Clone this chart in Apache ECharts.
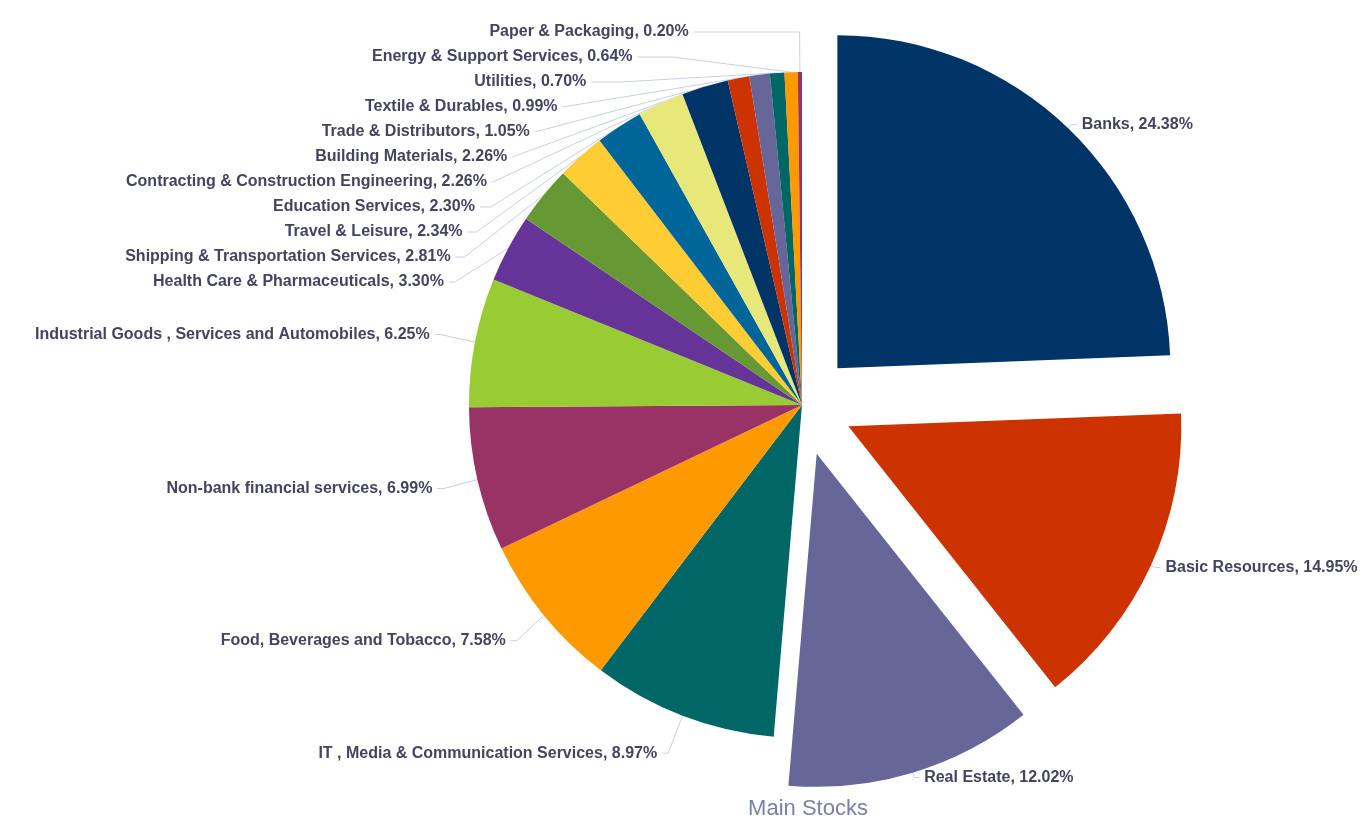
<!DOCTYPE html>
<html>
<head>
<meta charset="utf-8">
<script src="https://cdn.jsdelivr.net/npm/echarts@6/dist/echarts.min.js"></script>
<style>
html,body{margin:0;padding:0;background:#fff;}
#chart{width:1368px;height:821px;}
</style>
</head>
<body>
<div id="chart"></div>
<script>
const categories = [
  'Banks', 'Basic Resources', 'Real Estate', 'IT , Media & Communication Services',
  'Food, Beverages and Tobacco', 'Non-bank financial services',
  'Industrial Goods , Services and Automobiles', 'Health Care & Pharmaceuticals',
  'Shipping & Transportation Services', 'Travel & Leisure', 'Education Services',
  'Contracting & Construction Engineering', 'Building Materials', 'Trade & Distributors',
  'Textile & Durables', 'Utilities', 'Energy & Support Services', 'Paper & Packaging'
];
const shares = [24.38, 14.95, 12.02, 8.97, 7.58, 6.99, 6.25, 3.30, 2.81, 2.34, 2.30, 2.26, 2.26, 1.05, 0.99, 0.70, 0.64, 0.20];
const explodedSlices = ['Banks', 'Basic Resources', 'Real Estate'];
const palette = ['#003366', '#cc3300', '#666699', '#006666', '#ff9900', '#993366', '#99cc33', '#663399', '#669933', '#ffcc33', '#006699', '#e8e87a'];
const chartTitle = 'Main Stocks';

// styling only: extra horizontal connector length for the crowded labels near the top
const connectorExtra = {
  'Paper & Packaging': 100, 'Energy & Support Services': 29, 'Utilities': 23,
  'Textile & Durables': 14, 'Trade & Distributors': 12, 'Building Materials': 10,
  'Contracting & Construction Engineering': 10, 'Education Services': 5,
  'Travel & Leisure': 3, 'Shipping & Transportation Services': 3
};

const chart = echarts.init(document.getElementById('chart'));
chart.setOption({
  animation: false,
  color: palette,
  title: {
    text: chartTitle,
    left: 803,
    textAlign: 'center',
    bottom: -4,
    textStyle: { color: '#7b80a8', fontSize: 22, fontWeight: 'normal', fontFamily: 'Liberation Sans, Arial, sans-serif' }
  },
  series: [{
    type: 'pie',
    center: [802, 405],
    radius: 333,
    startAngle: 90,
    clockwise: true,
    selectedMode: 'multiple',
    selectedOffset: 51,
    avoidLabelOverlap: true,
    minShowLabelAngle: 0,
    label: {
      show: true,
      position: 'outside',
      color: '#44445f',
      fontSize: 16,
      lineHeight: 23,
      fontWeight: 'bold',
      fontFamily: 'Liberation Sans, Arial, sans-serif',
      formatter: p => p.name + ', ' + p.value.toFixed(2) + '%'
    },
    labelLine: {
      show: true,
      length: 40,
      length2: 6,
      lineStyle: { color: '#c8d0e2', width: 1 }
    },
    itemStyle: { borderWidth: 0 },
    emphasis: { disabled: true },
    data: categories.map((c, i) => {
      const exploded = explodedSlices.includes(c);
      const item = { name: c, value: shares[i], selected: exploded };
      if (exploded) item.labelLine = { length: 5, length2: 5 };
      else if (connectorExtra[c]) item.labelLine = { length2: 6 + connectorExtra[c] };
      return item;
    })
  }]
});
</script>
</body>
</html>
